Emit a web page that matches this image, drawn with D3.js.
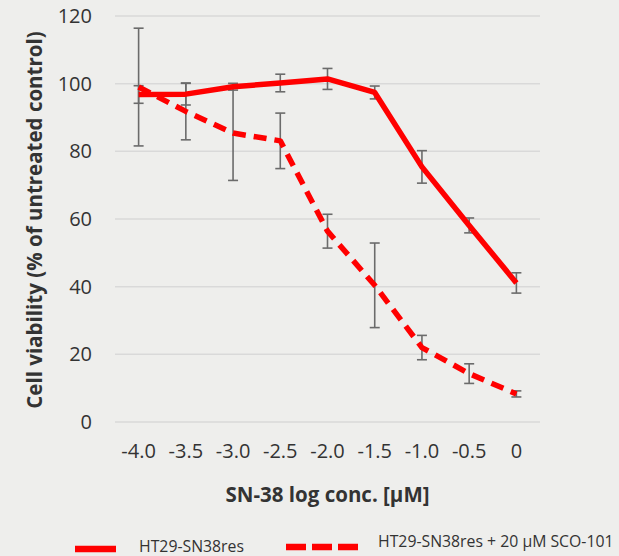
<!doctype html>
<html lang="en">
<head>
    <title></title>
    <script src="https://d3js.org/d3.v7.min.js"></script>
    <style type="text/css">
        body { margin: 0; background: #eeeeec; }
        text { font-family: "Open Sans", sans-serif; fill: #333; }
    </style>
</head>

<body>
</body>

<script type="text/javascript">

    var width  = 619;
    var height = 556;

    var concs = ["-4.0", "-3.5", "-3.0", "-2.5", "-2.0", "-1.5", "-1.0", "-0.5", "0"];
    var resValues = [96.8, 96.9, 99.1, 100.2, 101.4, 97.4, 75.4, 58.1, 41.1];
    var resErrors = [2.6, 3.2, 1.0, 2.6, 3.1, 1.9, 4.8, 2.2, 3.0];
    var scoValues = [99.0, 91.8, 85.4, 83.1, 56.4, 40.4, 22.0, 14.3, 8.3];
    var scoErrors = [17.4, 8.4, 14.0, 8.2, 5.0, 12.5, 3.6, 2.9, 0.9];
    var yTicks = [0, 20, 40, 60, 80, 100, 120];
    var seriesNames = ["HT29-SN38res", "HT29-SN38res + 20 \u00b5M SCO-101"];

    var plotLeft = 115, plotRight = 540, plotTop = 16, plotBottom = 422;

    var x = d3.scaleBand().domain(concs).range([plotLeft, plotRight]);
    var y = d3.scaleLinear().domain([0, 120]).range([plotBottom, plotTop]);

    var svg = d3.select("body")
        .append("svg")
        .attr("width", width)
        .attr("height", height)
        .style("background", "#eeeeec");

    // gridlines
    svg.selectAll(".grid")
        .data(yTicks)
        .enter()
        .append("line")
        .attr("x1", plotLeft)
        .attr("x2", plotRight)
        .attr("y1", d => y(d))
        .attr("y2", d => y(d))
        .style("stroke", "#d9d9d9")
        .style("stroke-width", 1.5);

    // y axis labels
    var yAxis = svg.append("g")
        .attr("transform", "translate(" + (plotLeft - 8) + ",0)")
        .call(d3.axisLeft(y).tickValues(yTicks).tickSize(0).tickPadding(15));
    yAxis.select(".domain").remove();
    yAxis.selectAll("text")
        .style("font-size", "20px")
        .style("font-family", "Open Sans")
        .attr("fill", "#333");

    // x axis labels
    var xAxis = svg.append("g")
        .attr("transform", "translate(0," + plotBottom + ")")
        .call(d3.axisBottom(x).tickSize(0).tickPadding(22));
    xAxis.select(".domain").remove();
    xAxis.selectAll("text")
        .style("font-size", "20px")
        .style("font-family", "Open Sans")
        .attr("fill", "#333");

    // axis titles
    svg.append("text")
        .attr("x", (plotLeft + plotRight) / 2 + 0)
        .attr("y", 502)
        .attr("text-anchor", "middle")
        .style("font-size", "20.5px")
        .style("font-weight", "bold")
        .text("SN-38 log conc. [\u00b5M]");

    svg.append("text")
        .attr("transform", "translate(42,220) rotate(-90)")
        .attr("text-anchor", "middle")
        .style("font-size", "20.5px")
        .style("font-weight", "bold")
        .text("Cell viability (% of untreated control)");

    // error bars
    function errorBars(values, errors) {
        var g = svg.append("g")
            .style("stroke", "#6b6b6b")
            .style("stroke-width", 1.6);
        var cx = (d, i) => x(concs[i]) + x.bandwidth() / 2;
        g.selectAll(".v").data(values).enter().append("line")
            .attr("x1", cx).attr("x2", cx)
            .attr("y1", (d, i) => y(d + errors[i]))
            .attr("y2", (d, i) => y(d - errors[i]));
        g.selectAll(".t").data(values).enter().append("line")
            .attr("x1", (d, i) => cx(d, i) - 5).attr("x2", (d, i) => cx(d, i) + 5)
            .attr("y1", (d, i) => y(d + errors[i]))
            .attr("y2", (d, i) => y(d + errors[i]));
        g.selectAll(".b").data(values).enter().append("line")
            .attr("x1", (d, i) => cx(d, i) - 5).attr("x2", (d, i) => cx(d, i) + 5)
            .attr("y1", (d, i) => y(d - errors[i]))
            .attr("y2", (d, i) => y(d - errors[i]));
    }
    errorBars(resValues, resErrors);
    errorBars(scoValues, scoErrors);

    var line = d3.line()
        .x((d, i) => x(concs[i]) + x.bandwidth() / 2)
        .y(d => y(d));

    svg.append("path")
        .datum(resValues)
        .attr("d", line)
        .style("fill", "none")
        .style("stroke", "#ff0000")
        .style("stroke-width", 5.5)
        .style("stroke-linejoin", "round");

    svg.append("path")
        .datum(scoValues)
        .attr("d", line)
        .style("fill", "none")
        .style("stroke", "#ff0000")
        .style("stroke-width", 5.5)
        .style("stroke-dasharray", "13,8")
        .style("stroke-linejoin", "round");

    // legend
    svg.append("line")
        .attr("x1", 75).attr("x2", 116)
        .attr("y1", 549).attr("y2", 549)
        .style("stroke", "#ff0000")
        .style("stroke-width", 6.5);
    svg.append("text")
        .attr("x", 139).attr("y", 552)
        .style("font-size", "15.8px")
        .text(seriesNames[0]);

    svg.append("line")
        .attr("x1", 286).attr("x2", 358)
        .attr("y1", 547).attr("y2", 547)
        .style("stroke", "#ff0000")
        .style("stroke-width", 6.5)
        .style("stroke-dasharray", "20,6");
    svg.append("text")
        .attr("x", 378).attr("y", 547)
        .style("font-size", "15.8px")
        .text(seriesNames[1]);

</script>

</html>
